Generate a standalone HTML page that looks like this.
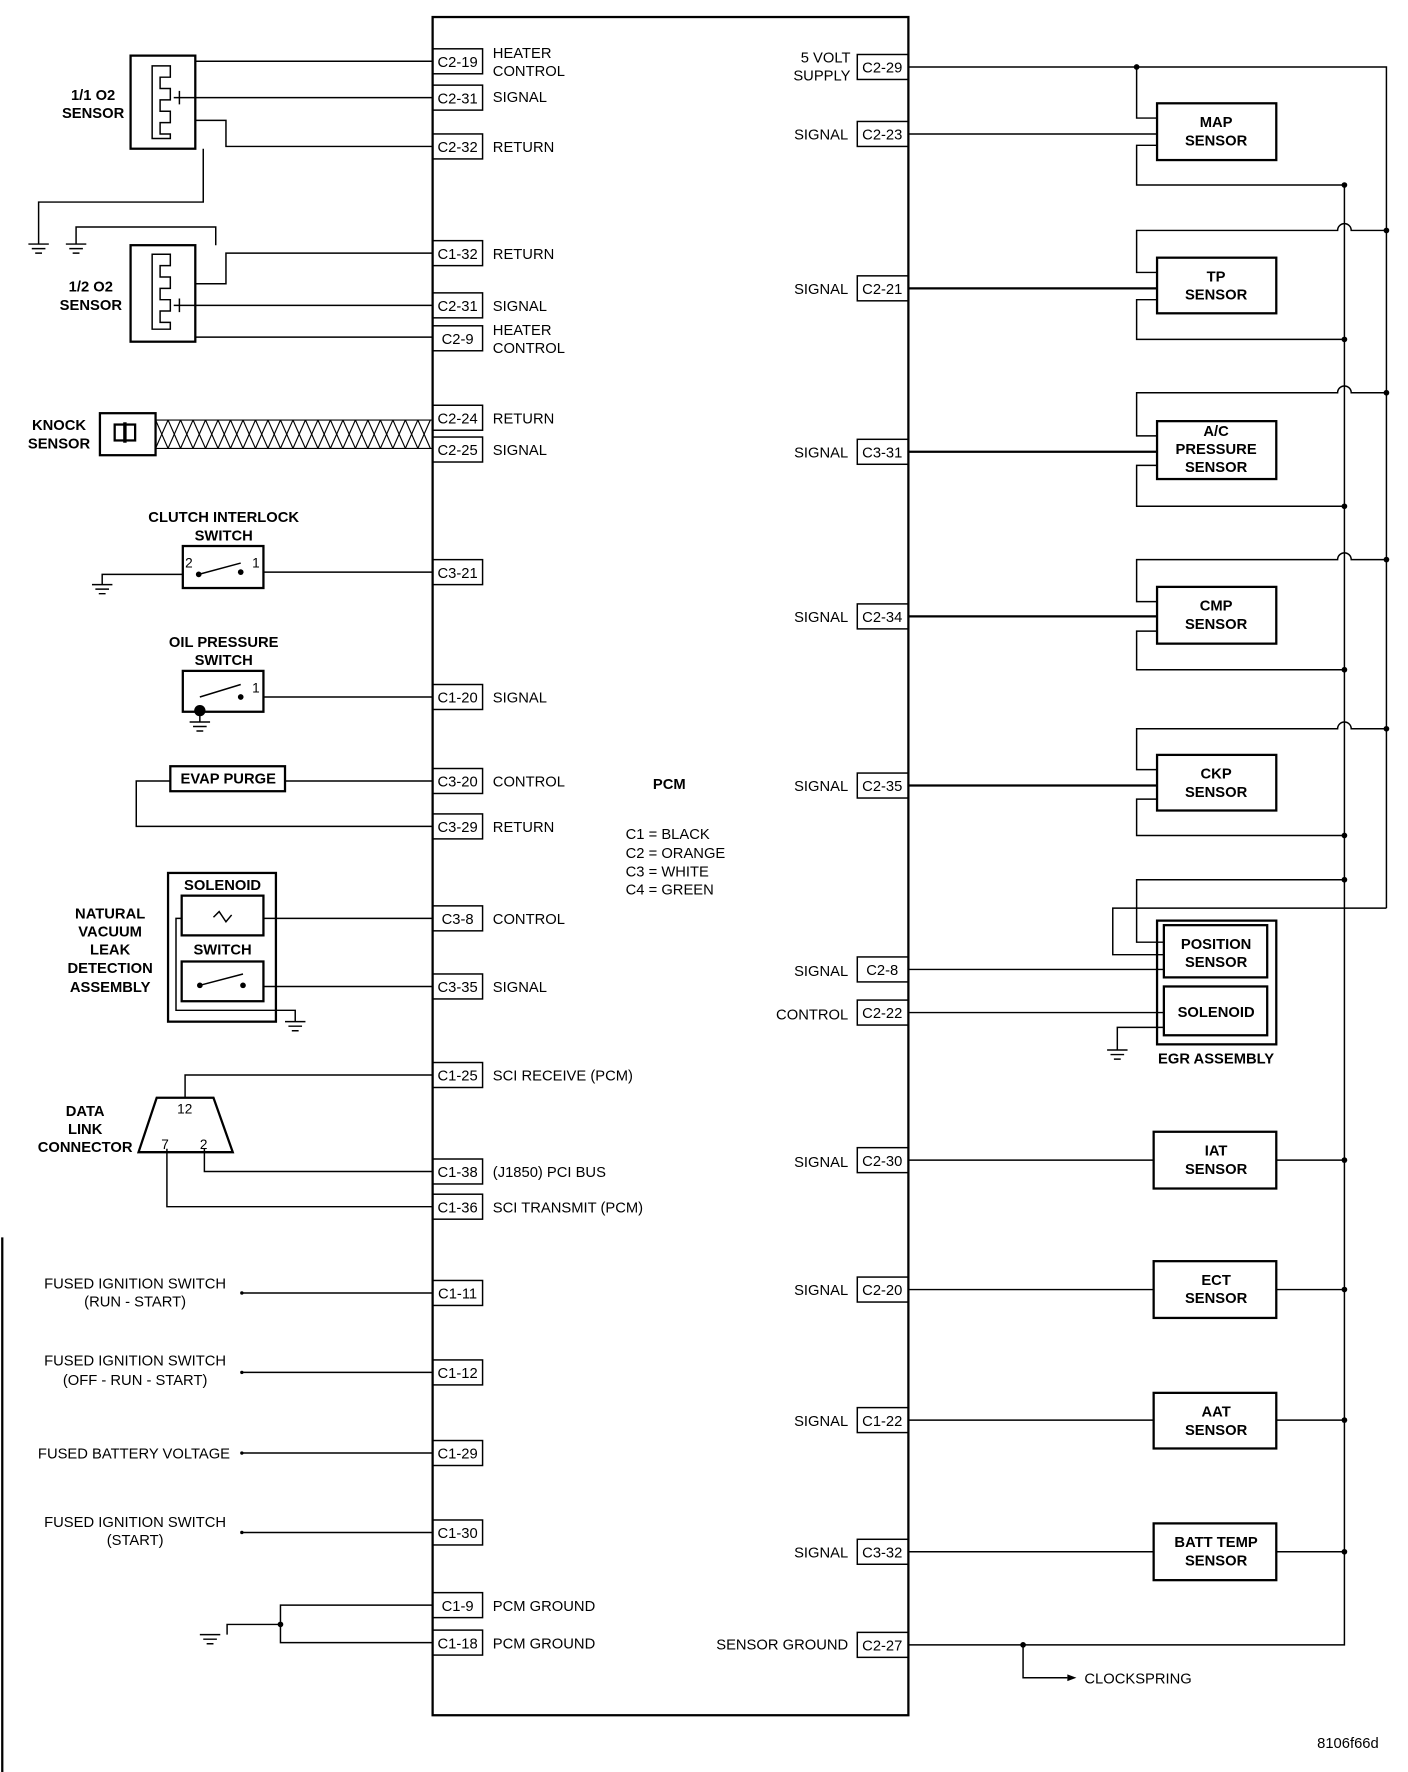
<!DOCTYPE html>
<html><head><meta charset="utf-8"><style>
html,body{margin:0;padding:0;background:#fff}
svg{display:block}
text{font-family:"Liberation Sans",sans-serif;font-size:13px;fill:#000}
.b{font-weight:bold;font-size:13px}
.p{font-size:12.5px}
</style></head><body>
<svg width="1408" height="1772" viewBox="0 0 1240 1561" preserveAspectRatio="none" xmlns="http://www.w3.org/2000/svg">
<g fill="none" stroke="#000" stroke-width="1.3">
<!-- PCM -->
<rect x="381" y="15" width="419" height="1496" stroke-width="2"/>
<!-- left pin boxes -->
<rect x="381" y="43" width="44" height="22"/><rect x="381" y="75" width="44" height="22"/><rect x="381" y="118" width="44" height="22"/>
<rect x="381" y="212" width="44" height="22"/><rect x="381" y="258" width="44" height="22"/><rect x="381" y="287" width="44" height="22"/>
<rect x="381" y="357" width="44" height="22"/><rect x="381" y="385" width="44" height="22"/><rect x="381" y="493" width="44" height="22"/>
<rect x="381" y="603" width="44" height="22"/><rect x="381" y="677" width="44" height="22"/><rect x="381" y="717" width="44" height="22"/>
<rect x="381" y="798" width="44" height="22"/><rect x="381" y="858" width="44" height="22"/><rect x="381" y="936" width="44" height="22"/>
<rect x="381" y="1021" width="44" height="22"/><rect x="381" y="1052" width="44" height="22"/><rect x="381" y="1128" width="44" height="22"/>
<rect x="381" y="1198" width="44" height="22"/><rect x="381" y="1269" width="44" height="22"/><rect x="381" y="1339" width="44" height="22"/>
<rect x="381" y="1403" width="44" height="22"/><rect x="381" y="1436" width="44" height="22"/>
<!-- right pin boxes -->
<rect x="755" y="48" width="45" height="22"/><rect x="755" y="107" width="45" height="22"/><rect x="755" y="243" width="45" height="22"/>
<rect x="755" y="387" width="45" height="22"/><rect x="755" y="532" width="45" height="22"/><rect x="755" y="681" width="45" height="22"/>
<rect x="755" y="843" width="45" height="22"/><rect x="755" y="881" width="45" height="22"/><rect x="755" y="1011" width="45" height="22"/>
<rect x="755" y="1125" width="45" height="22"/><rect x="755" y="1240" width="45" height="22"/><rect x="755" y="1356" width="45" height="22"/>
<rect x="755" y="1438" width="45" height="22"/>
<!-- right sensors -->
<g stroke-width="2">
<rect x="1019" y="91" width="105" height="50"/><rect x="1019" y="227" width="105" height="49"/><rect x="1019" y="371" width="105" height="51"/>
<rect x="1019" y="517" width="105" height="50"/><rect x="1019" y="665" width="105" height="49"/>
<rect x="1019" y="811" width="105" height="109"/><rect x="1025" y="815" width="91" height="46"/><rect x="1025" y="869" width="91" height="43"/>
<rect x="1016" y="997" width="108" height="50"/><rect x="1016" y="1111" width="108" height="50"/><rect x="1016" y="1227" width="108" height="49"/><rect x="1016" y="1342" width="108" height="50"/>
</g>
<!-- 5V bus -->
<path d="M800 59H1221V800"/>
<path d="M1001 59V104H1019"/><path d="M800 118H1019"/><path d="M1019 128H1001V163H1184"/>
<path d="M1221 203H1190A6 6 0 0 0 1178 203H1001V240H1019"/><path d="M800 254H1019" stroke-width="2"/><path d="M1019 264H1001V299H1184"/>
<path d="M1221 346H1190A6 6 0 0 0 1178 346H1001V384H1019"/><path d="M800 398H1019" stroke-width="2"/><path d="M1019 410H1001V446H1184"/>
<path d="M1221 493H1190A6 6 0 0 0 1178 493H1001V530H1019"/><path d="M800 543H1019" stroke-width="2"/><path d="M1019 556H1001V590H1184"/>
<path d="M1221 642H1190A6 6 0 0 0 1178 642H1001V678H1019"/><path d="M800 692H1019" stroke-width="2"/><path d="M1019 704H1001V736H1184"/>
<path d="M1221 800H980V841H1025"/><path d="M1184 775H1001V830H1025"/>
<path d="M800 854H1025"/><path d="M800 892H1025"/><path d="M1025 905H984V925"/>
<path d="M975 925H993M978 929H990M981 933H987"/>
<path d="M1184 163V1449H800"/>
<path d="M800 1022H1016M1124 1022H1184"/><path d="M800 1136H1016M1124 1136H1184"/><path d="M800 1251H1016M1124 1251H1184"/><path d="M800 1367H1016M1124 1367H1184"/>
<path d="M901 1449V1478H940"/>
<!-- O2 sensor 1/1 -->
<rect x="115" y="49" width="57" height="82" stroke-width="2"/>
<path d="M134 58H150V68H141V78H150V88H141V98H150V108H141V118H150V122H134Z"/>
<path d="M158 86H381M158 80V92M153 86H163"/>
<path d="M172 54H381"/><path d="M172 106H199V129H381"/>
<path d="M179 131V178H34V215"/><path d="M25 215H43M28 219H40M31 223H37"/>
<!-- O2 sensor 1/2 -->
<rect x="115" y="216" width="57" height="85" stroke-width="2"/>
<path d="M134 224H150V234H141V244H150V254H141V264H150V274H141V284H150V290H134Z"/>
<path d="M158 269H381M158 263V275M153 269H163"/>
<path d="M172 250H199V223H381"/><path d="M172 297H381"/>
<path d="M190 216V200H67V215"/><path d="M58 215H76M61 219H73M64 223H70"/>
<!-- knock -->
<rect x="88" y="364" width="49" height="37" stroke-width="2"/>
<rect x="101" y="374" width="18" height="14" stroke-width="2"/><path d="M110 372V390" stroke-width="3"/>
<path d="M137 370H381M137 395H381" stroke-width="1"/>
<path d="M137 370L148 395M148 370L159 395M159 370L170 395M170 370L181 395M181 370L192 395M192 370L203 395M203 370L214 395M214 370L225 395M225 370L236 395M236 370L247 395M247 370L258 395M258 370L269 395M269 370L280 395M280 370L291 395M291 370L302 395M302 370L313 395M313 370L324 395M324 370L335 395M335 370L346 395M346 370L357 395M357 370L368 395M368 370L379 395" stroke-width="1"/>
<path d="M148 370L137 395M159 370L148 395M170 370L159 395M181 370L170 395M192 370L181 395M203 370L192 395M214 370L203 395M225 370L214 395M236 370L225 395M247 370L236 395M258 370L247 395M269 370L258 395M280 370L269 395M291 370L280 395M302 370L291 395M313 370L302 395M324 370L313 395M335 370L324 395M346 370L335 395M357 370L346 395M368 370L357 395M379 370L368 395" stroke-width="1"/>
<!-- clutch -->
<rect x="161" y="481" width="71" height="37" stroke-width="2"/>
<path d="M175 506L212 496M232 504H381M161 506H90V515M81 515H99M84 519H96M87 523H93"/>
<!-- oil -->
<rect x="161" y="591" width="71" height="36" stroke-width="2"/>
<path d="M176 614L212 603M232 614H381M176 626V636M167 636H185M170 640H182M173 644H179"/>
<!-- evap -->
<rect x="150" y="675" width="101" height="22" stroke-width="2"/>
<path d="M251 688H381M150 688H120V728H381"/>
<!-- nvld -->
<rect x="148" y="769" width="95" height="131" stroke-width="2"/>
<rect x="160" y="789" width="72" height="35" stroke-width="2"/>
<rect x="160" y="847" width="72" height="35" stroke-width="2"/>
<path d="M188 808L193 803L199 812L204 806M232 809H381M232 869H381M176 868L214 858"/>
<path d="M160 809H155V890H260V900M251 900H269M254 904H266M257 908H263"/>
<!-- DLC -->
<path d="M138 967H188L205 1015H122Z" stroke-width="2"/>
<path d="M163 967V947H381M180 1012V1032H381M147 1012V1063H381"/>
<!-- fused -->
<path d="M213 1139H381M213 1209H381M213 1280H381M213 1350H381"/>
<!-- grounds -->
<path d="M381 1414H247V1447H381M247 1431H200V1440M176 1440H194M179 1444H191M182 1448H188"/>
<path d="M2 1090V1561" stroke-width="2"/>
</g>
<g fill="#000">
<circle cx="1001" cy="59" r="2.5"/>
<circle cx="1184" cy="163" r="2.5"/><circle cx="1221" cy="203" r="2.5"/><circle cx="1184" cy="299" r="2.5"/><circle cx="1221" cy="346" r="2.5"/>
<circle cx="1184" cy="446" r="2.5"/><circle cx="1221" cy="493" r="2.5"/><circle cx="1184" cy="590" r="2.5"/><circle cx="1221" cy="642" r="2.5"/>
<circle cx="1184" cy="736" r="2.5"/><circle cx="1184" cy="775" r="2.5"/>
<circle cx="1184" cy="1022" r="2.5"/><circle cx="1184" cy="1136" r="2.5"/><circle cx="1184" cy="1251" r="2.5"/><circle cx="1184" cy="1367" r="2.5"/>
<circle cx="901" cy="1449" r="2.5"/><circle cx="247" cy="1431" r="2.5"/>
<circle cx="175" cy="506" r="2.5"/><circle cx="212" cy="504" r="2.5"/><circle cx="212" cy="614" r="2.5"/><circle cx="176" cy="626" r="5"/>
<circle cx="176" cy="868" r="2.5"/><circle cx="214" cy="868" r="2.5"/>
<circle cx="213" cy="1139" r="1.5"/><circle cx="213" cy="1209" r="1.5"/><circle cx="213" cy="1280" r="1.5"/><circle cx="213" cy="1350" r="1.5"/>
<path d="M940 1475L948 1478L940 1481Z"/>
</g>
<!-- pin labels -->
<g class="p" text-anchor="middle">
<text x="403" y="59">C2-19</text><text x="403" y="91">C2-31</text><text x="403" y="134">C2-32</text>
<text x="403" y="228">C1-32</text><text x="403" y="274">C2-31</text><text x="403" y="303">C2-9</text>
<text x="403" y="373">C2-24</text><text x="403" y="401">C2-25</text><text x="403" y="509">C3-21</text>
<text x="403" y="619">C1-20</text><text x="403" y="693">C3-20</text><text x="403" y="733">C3-29</text>
<text x="403" y="814">C3-8</text><text x="403" y="874">C3-35</text><text x="403" y="952">C1-25</text>
<text x="403" y="1037">C1-38</text><text x="403" y="1068">C1-36</text><text x="403" y="1144">C1-11</text>
<text x="403" y="1214">C1-12</text><text x="403" y="1285">C1-29</text><text x="403" y="1355">C1-30</text>
<text x="403" y="1419">C1-9</text><text x="403" y="1452">C1-18</text>
<text x="777" y="64">C2-29</text><text x="777" y="123">C2-23</text><text x="777" y="259">C2-21</text>
<text x="777" y="403">C3-31</text><text x="777" y="548">C2-34</text><text x="777" y="697">C2-35</text>
<text x="777" y="859">C2-8</text><text x="777" y="897">C2-22</text><text x="777" y="1027">C2-30</text>
<text x="777" y="1141">C2-20</text><text x="777" y="1256">C1-22</text><text x="777" y="1372">C3-32</text>
<text x="777" y="1454">C2-27</text>
</g>
<g>
<text x="434" y="51">HEATER</text><text x="434" y="67">CONTROL</text><text x="434" y="90">SIGNAL</text><text x="434" y="134">RETURN</text>
<text x="434" y="228">RETURN</text><text x="434" y="274">SIGNAL</text><text x="434" y="295">HEATER</text><text x="434" y="311">CONTROL</text>
<text x="434" y="373">RETURN</text><text x="434" y="401">SIGNAL</text><text x="434" y="619">SIGNAL</text>
<text x="434" y="693">CONTROL</text><text x="434" y="733">RETURN</text><text x="434" y="814">CONTROL</text><text x="434" y="874">SIGNAL</text>
<text x="434" y="952">SCI RECEIVE (PCM)</text><text x="434" y="1037">(J1850) PCI BUS</text><text x="434" y="1068">SCI TRANSMIT (PCM)</text>
<text x="434" y="1419">PCM GROUND</text><text x="434" y="1452">PCM GROUND</text>
<text x="575" y="695" class="b">PCM</text>
<text x="551" y="739">C1 = BLACK</text><text x="551" y="756">C2 = ORANGE</text><text x="551" y="772">C3 = WHITE</text><text x="551" y="788">C4 = GREEN</text>
<text x="955" y="1483">CLOCKSPRING</text>
<text x="1160" y="1540">8106f66d</text>
</g>
<g text-anchor="end">
<text x="749" y="55">5 VOLT</text><text x="749" y="71">SUPPLY</text>
<text x="747" y="123">SIGNAL</text><text x="747" y="259">SIGNAL</text><text x="747" y="403">SIGNAL</text><text x="747" y="548">SIGNAL</text>
<text x="747" y="697">SIGNAL</text><text x="747" y="860">SIGNAL</text><text x="747" y="898">CONTROL</text><text x="747" y="1028">SIGNAL</text>
<text x="747" y="1141">SIGNAL</text><text x="747" y="1256">SIGNAL</text><text x="747" y="1372">SIGNAL</text><text x="747" y="1453">SENSOR GROUND</text>
</g>
<g text-anchor="middle">
<text x="119" y="1135">FUSED IGNITION SWITCH</text><text x="119" y="1151">(RUN - START)</text>
<text x="119" y="1203">FUSED IGNITION SWITCH</text><text x="119" y="1220">(OFF - RUN - START)</text>
<text x="118" y="1285">FUSED BATTERY VOLTAGE</text>
<text x="119" y="1345">FUSED IGNITION SWITCH</text><text x="119" y="1361">(START)</text>
</g>
<g class="b" text-anchor="middle">
<text x="1071" y="112">MAP</text><text x="1071" y="128">SENSOR</text>
<text x="1071" y="248">TP</text><text x="1071" y="264">SENSOR</text>
<text x="1071" y="384">A/C</text><text x="1071" y="400">PRESSURE</text><text x="1071" y="416">SENSOR</text>
<text x="1071" y="538">CMP</text><text x="1071" y="554">SENSOR</text>
<text x="1071" y="686">CKP</text><text x="1071" y="702">SENSOR</text>
<text x="1071" y="836">POSITION</text><text x="1071" y="852">SENSOR</text>
<text x="1071" y="896">SOLENOID</text><text x="1071" y="937">EGR ASSEMBLY</text>
<text x="1071" y="1018">IAT</text><text x="1071" y="1034">SENSOR</text>
<text x="1071" y="1132">ECT</text><text x="1071" y="1148">SENSOR</text>
<text x="1071" y="1248">AAT</text><text x="1071" y="1264">SENSOR</text>
<text x="1071" y="1363">BATT TEMP</text><text x="1071" y="1379">SENSOR</text>
<text x="82" y="88">1/1 O2</text><text x="82" y="104">SENSOR</text>
<text x="80" y="257">1/2 O2</text><text x="80" y="273">SENSOR</text>
<text x="52" y="379">KNOCK</text><text x="52" y="395">SENSOR</text>
<text x="197" y="460">CLUTCH INTERLOCK</text><text x="197" y="476">SWITCH</text>
<text x="197" y="570">OIL PRESSURE</text><text x="197" y="586">SWITCH</text>
<text x="201" y="690">EVAP PURGE</text>
<text x="196" y="784">SOLENOID</text><text x="196" y="841">SWITCH</text>
<text x="97" y="809">NATURAL</text><text x="97" y="825">VACUUM</text><text x="97" y="841">LEAK</text><text x="97" y="857">DETECTION</text><text x="97" y="874">ASSEMBLY</text>
<text x="75" y="983">DATA</text><text x="75" y="999">LINK</text><text x="75" y="1015">CONNECTOR</text>
</g>
<g font-size="12">
<text x="156" y="981" style="font-size:12px">12</text><text x="142" y="1012" style="font-size:12px">7</text><text x="176" y="1012" style="font-size:12px">2</text>
<text x="163" y="500" style="font-size:12px">2</text><text x="222" y="500" style="font-size:12px">1</text><text x="222" y="610" style="font-size:12px">1</text>
</g>
</svg>
</body></html>
